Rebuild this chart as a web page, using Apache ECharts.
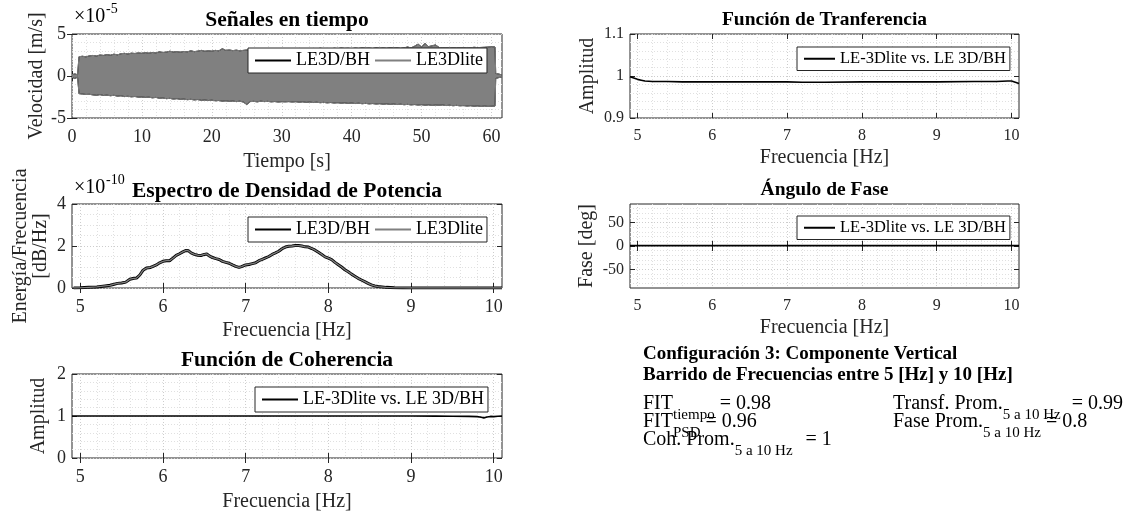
<!DOCTYPE html>
<html>
<head>
<meta charset="utf-8">
<title>Configuración 3: Componente Vertical</title>
<script src="https://cdn.jsdelivr.net/npm/echarts@6/dist/echarts.min.js"></script>
<style>
  html, body { margin: 0; padding: 0; background: #ffffff; }
  #chart { width: 1137px; height: 515px; }
</style>
</head>
<body>
<div id="chart"></div>
<script>
// ---------------- data ----------------
// Velocity record (units of 1e-5 m/s): envelope of the shaking, sampled every 0.5 s from 1.0 s
const velTimePre  = [0, 0.2, 0.4, 0.6, 0.8, 0.95];
const velUpperPre = [0.15, 0.30, 0.25, 0.20, 0.15, 0.20];
const velLowerPre = [-0.15, -0.25, -0.30, -0.20, -0.15, -0.20];
const velStart = 1.0, velStep = 0.5;
const velUpper = [
  2.30, 2.35, 2.28, 2.40, 2.45, 2.38, 2.50, 2.45, 2.55, 2.48,
  2.60, 2.52, 2.65, 2.70, 2.62, 2.72, 2.68, 2.75, 2.70, 2.78,
  2.72, 2.80, 2.75, 2.88, 2.80, 2.85, 2.95, 2.86, 2.90, 2.84,
  2.92, 2.88, 3.00, 2.90, 2.96, 3.05, 2.95, 3.00, 2.96, 3.05,
  3.00, 3.25, 3.05, 3.10, 3.02, 3.08, 3.00, 3.05, 3.10, 3.12,
  3.15, 3.18, 3.12, 3.20, 3.15, 3.22, 3.18, 3.25, 3.20, 3.22,
  3.18, 3.25, 3.20, 3.28, 3.22, 3.25, 3.20, 3.28, 3.24, 3.30,
  3.25, 3.28, 3.22, 3.30, 3.26, 3.32, 3.28, 3.30, 3.25, 3.32,
  3.28, 3.34, 3.30, 3.32, 3.28, 3.35, 3.30, 3.34, 3.30, 3.36,
  3.32, 3.35, 3.30, 3.36, 3.45, 3.35, 3.55, 3.80, 3.45, 3.90,
  3.50, 3.60, 3.70, 3.40, 3.35, 3.38, 3.32, 3.36, 3.34, 3.38,
  3.35, 3.40, 3.36, 3.42, 3.38, 3.40, 3.42, 3.45, 3.50, 3.45
];
const velLower = [
  -2.10, -2.15, -2.20, -2.18, -2.25, -2.30, -2.22, -2.32, -2.28, -2.35,
  -2.30, -2.40, -2.36, -2.45, -2.42, -2.48, -2.44, -2.52, -2.50, -2.55,
  -2.52, -2.60, -2.55, -2.65, -2.62, -2.70, -2.66, -2.75, -2.70, -2.78,
  -2.75, -2.82, -2.78, -2.85, -2.80, -2.90, -2.86, -2.92, -2.88, -2.95,
  -2.92, -3.00, -2.96, -3.02, -2.98, -3.05, -3.00, -3.10, -3.40, -3.05,
  -3.02, -3.08, -3.00, -3.05, -3.02, -3.08, -3.04, -3.10, -3.06, -3.08,
  -3.05, -3.10, -3.06, -3.12, -3.08, -3.14, -3.10, -3.16, -3.12, -3.18,
  -3.14, -3.20, -3.16, -3.22, -3.18, -3.24, -3.20, -3.26, -3.22, -3.28,
  -3.24, -3.30, -3.26, -3.32, -3.28, -3.34, -3.30, -3.36, -3.32, -3.38,
  -3.34, -3.40, -3.36, -3.42, -3.38, -3.44, -3.40, -3.46, -3.42, -3.48,
  -3.44, -3.50, -3.46, -3.48, -3.45, -3.52, -3.48, -3.54, -3.50, -3.55,
  -3.52, -3.58, -3.54, -3.60, -3.56, -3.62, -3.58, -3.62, -3.60, -3.58
];
const velTimePost  = [60.6, 60.8, 61.0, 61.2, 61.5];
const velUpperPost = [0.30, 0.20, 0.25, 0.15, 0.10];
const velLowerPost = [-0.30, -0.25, -0.20, -0.15, -0.10];

// Power spectral density (units of 1e-10)
const psdFreq = [4.92,5.0,5.1,5.2,5.3,5.36,5.4,5.45,5.5,5.55,5.6,5.65,5.68,5.72,5.76,5.8,5.85,5.88,5.92,5.96,
  6.0,6.04,6.08,6.12,6.16,6.2,6.24,6.28,6.31,6.34,6.38,6.42,6.46,6.5,6.53,6.56,6.6,6.64,6.68,6.72,
  6.76,6.8,6.84,6.88,6.92,6.95,7.0,7.04,7.08,7.12,7.16,7.2,7.24,7.28,7.32,7.36,7.4,7.44,7.48,7.52,
  7.56,7.6,7.64,7.68,7.72,7.76,7.8,7.84,7.88,7.92,7.96,8.0,8.04,8.08,8.12,8.16,8.2,8.24,8.28,8.32,
  8.36,8.4,8.44,8.48,8.52,8.56,8.6,8.7,8.8,8.9,9.0,9.5,10.0,10.1];
const psdBH = [0.0,0.01,0.03,0.05,0.1,0.13,0.17,0.22,0.24,0.28,0.42,0.46,0.47,0.62,0.85,0.95,0.98,1.03,1.1,1.2,
  1.27,1.3,1.3,1.42,1.55,1.63,1.72,1.79,1.77,1.67,1.6,1.56,1.55,1.6,1.62,1.53,1.45,1.4,1.36,1.27,
  1.22,1.18,1.1,1.03,0.98,1.02,1.1,1.12,1.16,1.2,1.3,1.36,1.43,1.5,1.6,1.67,1.75,1.87,1.95,1.99,
  2.0,2.02,2.02,2.0,1.96,1.95,1.88,1.8,1.7,1.6,1.48,1.42,1.35,1.22,1.11,1.0,0.87,0.77,0.66,0.56,
  0.46,0.38,0.3,0.22,0.15,0.1,0.07,0.03,0.01,0.005,0.0,0.0,0.0,0.0];
const psdLite = psdBH.slice(); // both sensors overlap at this scale

// Coherence
const cohFreq = [4.9, 5.5, 6.0, 6.5, 7.0, 7.5, 8.0, 8.5, 9.0, 9.3, 9.5, 9.7, 9.8, 9.85, 9.88, 9.92, 9.96, 10.0, 10.05, 10.1];
const cohVals = [1, 1, 1, 1, 1, 1, 1, 1, 1, 0.998, 0.995, 0.99, 0.985, 0.97, 0.955, 0.975, 0.99, 0.985, 0.995, 1.0];

// Transfer function amplitude
const tfFreq = [4.9, 4.95, 5.0, 5.05, 5.1, 5.2, 5.4, 5.6, 6.0, 6.5, 7.0, 7.2, 7.5, 8.0, 8.5, 9.0, 9.5, 9.8, 9.95, 10.0, 10.05, 10.1];
const tfVals = [0.998, 0.995, 0.992, 0.99, 0.988, 0.987, 0.987, 0.986, 0.986, 0.986, 0.986, 0.985, 0.985, 0.986, 0.986, 0.986, 0.987, 0.987, 0.988, 0.988, 0.985, 0.982];

// Phase angle (deg)
const phFreq = [4.9, 5.5, 6.0, 6.5, 7.0, 7.5, 8.0, 8.5, 9.0, 9.5, 10.0, 10.1];
const phVals = [0.8, 0.7, 0.8, 0.8, 0.9, 0.8, 0.8, 0.7, 0.8, 0.9, 0.8, 0.8];

// Tick labels
const timeTicks = [0, 10, 20, 30, 40, 50, 60];
const freqTicks = [5, 6, 7, 8, 9, 10];
const velTicks  = [-5, 0, 5];
const psdTicks  = [0, 2, 4];
const cohTicks  = [0, 1, 2];
const tfTicks   = [0.9, 1, 1.1];
const phTicks   = [-50, 0, 50];

// Summary figures
const fitTiempo = 0.98, fitPsd = 0.96, cohProm = 1, transfProm = 0.99, faseProm = 0.8;

// ---------------- helpers ----------------
const FONT = '"Liberation Serif", "Times New Roman", serif';
const AX = '#262626';
const GRID_MAJOR = '#cdcdcd';
const GRID_MINOR = '#e0e0e0';

function gridSteps(lo, hi, step, skip) {
  const out = [];
  for (let k = Math.ceil(lo / step - 1e-9); k * step <= hi + 1e-9; k++) {
    const v = +(k * step).toFixed(6);
    if (v <= lo + 1e-9 || v >= hi - 1e-9) continue;
    if (skip.some(s => Math.abs(s - v) < 1e-9)) continue;
    out.push(v);
  }
  return out;
}
const zip = (xs, ys) => xs.map((x, i) => [x, ys[i]]);

const xAxis = [], yAxis = [], grid = [];

function addPanel(box, xo, yo) {
  const g = grid.length;
  grid.push({ left: box[0], top: box[1], width: box[2], height: box[3], show: true,
    borderColor: AX, borderWidth: 1, backgroundColor: 'transparent', containLabel: false });
  const xi = xAxis.length, yi = yAxis.length;
  const common = { gridIndex: g, type: 'value', min: xo.min, max: xo.max, silent: true };
  xAxis.push(Object.assign({}, common, {
    position: 'bottom',
    axisLine: { show: false },
    axisTick: { show: true, inside: true, length: 5, customValues: xo.ticks, lineStyle: { color: AX } },
    axisLabel: { customValues: xo.ticks, fontFamily: FONT, fontSize: xo.fs, color: AX, margin: xo.margin },
    splitLine: { show: true, lineStyle: { color: GRID_MAJOR, type: [1, 2], width: 1 } },
    name: xo.name, nameLocation: 'middle', nameGap: xo.nameGap,
    nameTextStyle: { fontFamily: FONT, fontSize: 20, color: AX }
  }));
  xAxis.push(Object.assign({}, common, {
    position: 'top',
    axisLine: { show: false },
    axisTick: { show: true, inside: true, length: 5, customValues: xo.ticks, lineStyle: { color: AX } },
    axisLabel: { show: false }, splitLine: { show: false }
  }));
  xAxis.push(Object.assign({}, common, {
    position: 'bottom',
    axisLine: { show: false },
    axisTick: { show: false, customValues: xo.minor },
    axisLabel: { show: false },
    splitLine: { show: true, lineStyle: { color: GRID_MINOR, type: [1, 2], width: 1 } }
  }));
  const yc = { gridIndex: g, type: 'value', min: yo.min, max: yo.max, silent: true };
  yAxis.push(Object.assign({}, yc, {
    position: 'left',
    axisLine: { show: false },
    axisTick: { show: true, inside: true, length: 5, customValues: yo.ticks, lineStyle: { color: AX } },
    axisLabel: { customValues: yo.ticks, fontFamily: FONT, fontSize: yo.fs, color: AX, margin: yo.margin },
    splitLine: { show: true, lineStyle: { color: GRID_MAJOR, type: [1, 2], width: 1 } },
    name: yo.name, nameLocation: 'middle', nameGap: yo.nameGap, nameRotate: 90,
    nameTextStyle: { fontFamily: FONT, fontSize: 20, color: AX, lineHeight: 20, align: 'center' }
  }));
  yAxis.push(Object.assign({}, yc, {
    position: 'right',
    axisLine: { show: false },
    axisTick: { show: true, inside: true, length: 5, customValues: yo.ticks, lineStyle: { color: AX } },
    axisLabel: { show: false }, splitLine: { show: false }
  }));
  yAxis.push(Object.assign({}, yc, {
    position: 'left',
    axisLine: { show: false },
    axisTick: { show: false, customValues: yo.minor },
    axisLabel: { show: false },
    splitLine: { show: true, lineStyle: { color: GRID_MINOR, type: [1, 2], width: 1 } }
  }));
  return { x: xi, y: yi };
}

const fMin = 4.9, fMax = 10.1;
const freqMinor = gridSteps(fMin, fMax, 0.2, freqTicks);

const pTime = addPanel([72, 34, 430, 84],
  { min: 0, max: 61.5, ticks: timeTicks, minor: gridSteps(0, 61.5, 2, timeTicks), fs: 18, margin: 10, name: 'Tiempo [s]', nameGap: 34 },
  { min: -5, max: 5, ticks: velTicks, minor: gridSteps(-5, 5, 1, velTicks), fs: 18, margin: 6, name: 'Velocidad [m/s]', nameGap: 24 });
const pPsd = addPanel([72, 204, 430, 84],
  { min: fMin, max: fMax, ticks: freqTicks, minor: freqMinor, fs: 18, margin: 10, name: 'Frecuencia [Hz]', nameGap: 33 },
  { min: 0, max: 4, ticks: psdTicks, minor: gridSteps(0, 4, 0.5, psdTicks), fs: 18, margin: 6, name: 'Energía/Frecuencia\n[dB/Hz]', nameGap: 21 });
const pCoh = addPanel([72, 374, 430, 84],
  { min: fMin, max: fMax, ticks: freqTicks, minor: freqMinor, fs: 18, margin: 10, name: 'Frecuencia [Hz]', nameGap: 34 },
  { min: 0, max: 2, ticks: cohTicks, minor: gridSteps(0, 2, 0.2, cohTicks), fs: 18, margin: 6, name: 'Amplitud', nameGap: 23 });
const pTf = addPanel([630, 34, 389, 84],
  { min: fMin, max: fMax, ticks: freqTicks, minor: freqMinor, fs: 16, margin: 10, name: 'Frecuencia [Hz]', nameGap: 30 },
  { min: 0.9, max: 1.1, ticks: tfTicks, minor: gridSteps(0.9, 1.1, 0.02, tfTicks), fs: 16, margin: 6, name: 'Amplitud', nameGap: 32 });
const pPh = addPanel([630, 204, 389, 84],
  { min: fMin, max: fMax, ticks: freqTicks, minor: freqMinor, fs: 16, margin: 10, name: 'Frecuencia [Hz]', nameGap: 30 },
  { min: -90, max: 90, ticks: phTicks, minor: gridSteps(-90, 90, 10, phTicks), fs: 16, margin: 6, name: 'Fase [deg]', nameGap: 33 });

// ---------------- series ----------------
const velTime = velTimePre.concat(velUpper.map((_, i) => velStart + i * velStep), velTimePost);
const velTop = velUpperPre.concat(velUpper, velUpperPost);
const velBot = velLowerPre.concat(velLower, velLowerPost);

const BLACK = '#000000', GRAY = '#808080';
const NAME_BH = 'LE3D/BH', NAME_LITE = 'LE3Dlite', NAME_CMP = 'LE-3Dlite vs. LE 3D/BH';

function line(panel, name, data, color, width, extra) {
  return Object.assign({
    type: 'line', name, data, xAxisIndex: panel.x, yAxisIndex: panel.y,
    showSymbol: false, symbol: 'none', silent: true, animation: false,
    color, itemStyle: { color }, lineStyle: { color, width }
  }, extra || {});
}

const series = [
  line(pTime, NAME_BH, zip(velTime, velTop), BLACK, 1),
  line(pTime, NAME_BH, zip(velTime, velBot), BLACK, 1),
  line(pTime, NAME_LITE, zip(velTime, velTop), GRAY, 1, { areaStyle: { color: GRAY, opacity: 1 } }),
  line(pTime, NAME_LITE, zip(velTime, velBot), GRAY, 1, { areaStyle: { color: GRAY, opacity: 1 } }),
  line(pPsd, NAME_BH, zip(psdFreq, psdBH), BLACK, 3),
  line(pPsd, NAME_LITE, zip(psdFreq, psdLite), GRAY, 1.3),
  line(pCoh, NAME_CMP, zip(cohFreq, cohVals), BLACK, 1.6),
  line(pTf, NAME_CMP, zip(tfFreq, tfVals), BLACK, 1.6),
  line(pPh, NAME_CMP, zip(phFreq, phVals), BLACK, 1.6)
];

// ---------------- legends ----------------
function legendBox(names, left, top, fs, itemWidth) {
  return {
    data: names, left, top, orient: 'horizontal', selectedMode: false,
    icon: 'rect', itemWidth, itemHeight: 2, itemGap: 5,
    padding: [3, 4, 3, 7], borderColor: AX, borderWidth: 1, backgroundColor: '#ffffff',
    textStyle: { fontFamily: FONT, fontSize: fs, color: '#000000', lineHeight: fs + 1 }
  };
}
const legend = [
  legendBox([NAME_BH, NAME_LITE], 248, 48, 18, 36),
  legendBox([NAME_BH, NAME_LITE], 248, 217, 18, 36),
  legendBox([NAME_CMP], 255, 387, 18, 36),
  legendBox([NAME_CMP], 797, 47, 16.5, 31),
  legendBox([NAME_CMP], 797, 216, 16.5, 31)
];

// ---------------- titles and annotations ----------------
function fontOf(size, weight) { return (weight || 'normal') + ' ' + size + 'px ' + FONT; }
function txt(x, y, text, size, weight, align) {
  return { type: 'text', x, y, silent: true, z: 100,
    style: { text, font: fontOf(size, weight), fill: '#000000',
      align: align || 'left', verticalAlign: 'middle' } };
}
// inline text with subscripts: pieces flow left to right
const measureCtx = document.createElement('canvas').getContext('2d');
function textRun(x, y, pieces) {
  const out = [];
  let cx = x;
  pieces.forEach(([text, sub, gap]) => {
    const size = sub ? 15 : 20;
    cx += gap || 0;
    out.push(txt(cx, sub ? y + 11 : y, text, size));
    measureCtx.font = fontOf(size);
    cx += measureCtx.measureText(text).width;
  });
  return out;
}

const graphic = [
  txt(287, 20, 'Señales en tiempo', 21.5, 'bold', 'center'),
  txt(287, 191, 'Espectro de Densidad de Potencia', 21.5, 'bold', 'center'),
  txt(287, 360, 'Función de Coherencia', 21.5, 'bold', 'center'),
  txt(824.5, 20, 'Función de Tranferencia', 19.5, 'bold', 'center'),
  txt(824.5, 190, 'Ángulo de Fase', 19.5, 'bold', 'center'),
  // axis exponents
  txt(74, 17, '×10', 20), txt(106, 9, '-5', 14),
  txt(74, 188, '×10', 20), txt(106, 180, '-10', 14),
  // summary block
  txt(643, 354, 'Configuración 3: Componente Vertical', 19, 'bold'),
  txt(643, 375, 'Barrido de Frecuencias entre 5 [Hz] y 10 [Hz]', 19, 'bold')
].concat(
  textRun(643, 404, [['FIT'], ['tiempo', 1], [' = ' + fitTiempo]]),
  textRun(643, 422, [['FIT'], ['PSD', 1], [' = ' + fitPsd]]),
  textRun(643, 440, [['Coh. Prom.'], ['5 a 10 Hz', 1], [' = ' + cohProm, 0, 8]]),
  textRun(893, 404, [['Transf. Prom.'], ['5 a 10 Hz', 1], [' = ' + transfProm, 0, 6]]),
  textRun(893, 422, [['Fase Prom.'], ['5 a 10 Hz', 1], [' = ' + faseProm]])
);

const chart = echarts.init(document.getElementById('chart'), null, { renderer: 'canvas' });
chart.setOption({
  backgroundColor: '#ffffff',
  animation: false,
  grid, xAxis, yAxis, series, legend, graphic
});
</script>
</body>
</html>
